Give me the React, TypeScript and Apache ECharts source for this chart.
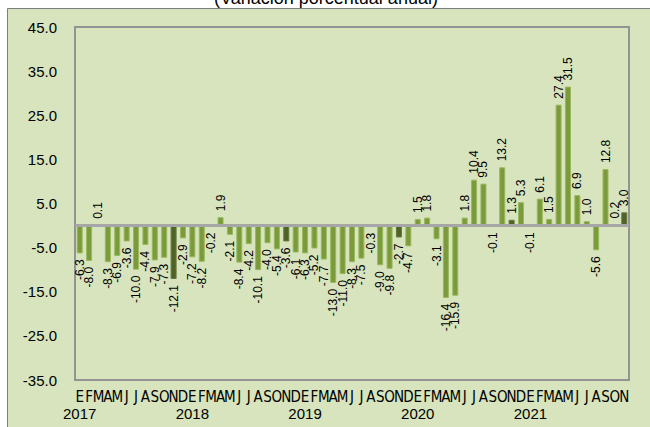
import { useEffect, useRef } from 'react';
import * as echarts from 'echarts';

// ---- data ----
const MONTHS = ['E', 'F', 'M', 'A', 'M', 'J', 'J', 'A', 'S', 'O', 'N', 'D'];
const YEARS = ['2017', '2018', '2019', '2020', '2021'];
const V2017 = [-6.3, -8.0, 0.1, -8.3, -6.9, -3.6, -10.0, -4.4, -7.9, -7.3, -12.1, -2.9];
const V2018 = [-7.2, -8.2, -0.2, 1.9, -2.1, -8.4, -4.2, -10.1, -4.0, -5.4, -3.6, -6.1];
const V2019 = [-6.3, -5.2, -7.7, -13.0, -11.0, -8.3, -7.5, -0.3, -9.0, -9.8, -2.7, -4.7];
const V2020 = [1.5, 1.8, -3.1, -16.4, -15.9, 1.8, 10.4, 9.5, -0.1, 13.2, 1.3, 5.3];
const V2021 = [-0.1, 6.1, 1.5, 27.4, 31.5, 6.9, 1.0, -5.6, 12.8, 0.2, 3.0];
const YEAR_VALUES = [V2017, V2018, V2019, V2020, V2021];
const Y_MIN = -35;
const Y_MAX = 45;
const Y_STEP = 10;
const HIGHLIGHT_MONTH_INDEX = 10; // November bars are darker
const TITLE = '(Variación porcentual anual)';

const FONT = "'Liberation Sans', Arial, sans-serif";
const NARROW = "'Liberation Sans Narrow', 'Arial Narrow', 'DejaVu Sans Condensed', sans-serif";

export default function App() {
  const ref = useRef<HTMLDivElement>(null);

  useEffect(() => {
    if (!ref.current) return;
    const chart = echarts.init(ref.current, undefined, { renderer: 'svg' });

    const monthCats: string[] = [];
    const yearCats: string[] = [];
    const items: any[] = [];
    YEAR_VALUES.forEach((vals, yi) => {
      vals.forEach((v, mi) => {
        monthCats.push(MONTHS[mi]);
        yearCats.push(mi === 0 ? YEARS[yi] : '');
        const dark = mi === HIGHLIGHT_MONTH_INDEX;
        const pos = v >= 0;
        items.push({
          value: v,
          itemStyle: dark
            ? { color: '#4f6228', borderColor: '#65793a', borderWidth: 1 }
            : { color: '#7b9a3c', borderColor: '#9ab85c', borderWidth: 1 },
          label: {
            position: pos ? 'top' : 'bottom',
            align: pos ? 'left' : 'right',
            verticalAlign: 'middle',
          },
        });
      });
    });

    chart.setOption({
      animation: false,
      backgroundColor: '#ffffff',
      graphic: [
        {
          type: 'rect',
          z: -10,
          silent: true,
          shape: { x: 7.5, y: 8.5, width: 700, height: 500 },
          style: { fill: '#d7e4bd', stroke: '#7f7f7f', lineWidth: 1 },
        },
        {
          type: 'text',
          z: 10,
          silent: true,
          x: 326,
          y: 7,
          style: {
            text: TITLE,
            font: `18px ${FONT}`,
            fill: '#000000',
            textAlign: 'center',
            textVerticalAlign: 'bottom',
          },
        },
      ],
      grid: {
        left: 75,
        right: 21,
        top: 27,
        bottom: 47,
        show: true,
        backgroundColor: 'transparent',
        borderColor: '#939393',
        borderWidth: 2,
      },
      xAxis: [
        {
          type: 'category',
          data: monthCats,
          boundaryGap: true,
          axisLine: { show: false, onZero: false },
          axisTick: { show: false },
          splitLine: { show: false },
          axisLabel: {
            interval: 0,
            margin: 9,
            fontSize: 15,
            fontFamily: NARROW,
            color: '#000000',
          },
        },
        {
          type: 'category',
          position: 'bottom',
          data: yearCats,
          boundaryGap: true,
          axisLine: { show: false, onZero: false },
          axisTick: { show: false },
          splitLine: { show: false },
          axisLabel: {
            interval: 0,
            margin: 26,
            fontSize: 15,
            fontFamily: FONT,
            color: '#000000',
          },
        },
      ],
      yAxis: {
        type: 'value',
        min: Y_MIN,
        max: Y_MAX,
        interval: Y_STEP,
        axisLine: { show: true, lineStyle: { color: '#939393', width: 2 } },
        axisTick: { show: false },
        splitLine: { show: false },
        axisLabel: {
          margin: 18,
          fontSize: 15,
          fontFamily: FONT,
          color: '#000000',
          formatter: (v: number) => v.toFixed(1),
        },
      },
      series: [
        {
          type: 'bar',
          xAxisIndex: 0,
          barWidth: '64%',
          data: items,
          emphasis: { disabled: true },
          label: {
            show: true,
            rotate: 90,
            distance: 6,
            fontSize: 12,
            fontFamily: FONT,
            color: '#000000',
            formatter: (p: any) => Number(p.value).toFixed(1),
          },
          markLine: {
            silent: true,
            symbol: ['none', 'none'],
            label: { show: false },
            lineStyle: { color: '#a6a6a6', width: 3, type: 'solid' },
            data: [{ yAxis: 0 }],
          },
        },
      ],
    });

    return () => chart.dispose();
  }, []);

  return (
    <div
      ref={ref}
      style={{ position: 'absolute', left: 0, top: 0, width: 650, height: 427 }}
    />
  );
}
